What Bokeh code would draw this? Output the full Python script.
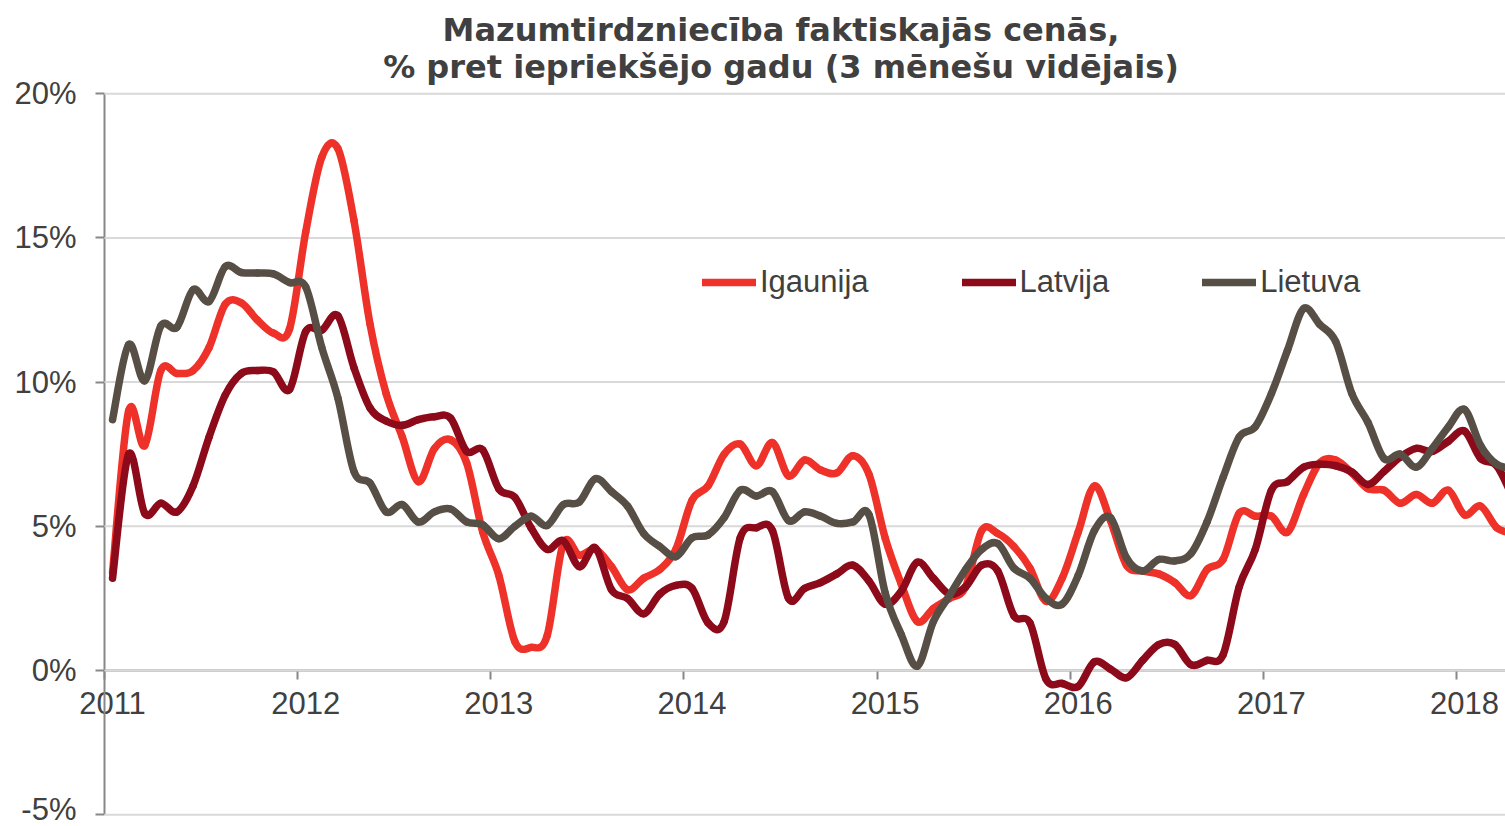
import numpy as np
from bokeh.plotting import figure
from bokeh.models import (FixedTicker, LinearAxis, PrintfTickFormatter, Label,
                          Legend, LegendItem, Range1d, ColumnDataSource)
from bokeh.embed import file_html
from bokeh.resources import INLINE

# ---------------- data (monthly, Jan 2011 .. Apr 2018, % y/y, 3m avg) ----------------
years = ["2011", "2012", "2013", "2014", "2015", "2016", "2017", "2018"]

igaunija = [3.4, 9.0, 7.8, 10.4, 10.3, 10.4, 11.2, 12.7, 12.75, 12.15, 11.7, 11.85,
            15.2, 17.8, 18.1, 15.6, 12.0, 9.6, 8.1, 6.55, 7.7, 8.0, 7.2, 4.8,
            3.3, 1.0, 0.8, 1.2, 4.4, 4.0, 4.2, 3.6, 2.8, 3.2, 3.5, 4.2,
            5.9, 6.4, 7.5, 7.85, 7.1, 7.9, 6.75, 7.3, 6.95, 6.85, 7.45, 6.8,
            4.6, 3.0, 1.7, 2.15, 2.5, 2.9, 4.85, 4.75, 4.3, 3.55, 2.4, 3.2,
            4.8, 6.4, 5.2, 3.65, 3.45, 3.35, 3.05, 2.6, 3.5, 3.85, 5.45, 5.35,
            5.35, 4.8, 6.1, 7.2, 7.3, 6.85, 6.3, 6.25, 5.8, 6.1, 5.8, 6.25,
            5.4, 5.7, 4.95, 4.75]

latvija = [3.2, 7.5, 5.45, 5.8, 5.5, 6.4, 8.1, 9.55, 10.3, 10.4, 10.35, 9.75,
           11.75, 11.8, 12.3, 10.5, 9.1, 8.65, 8.5, 8.7, 8.8, 8.75, 7.6, 7.65,
           6.3, 6.0, 4.95, 4.2, 4.5, 3.6, 4.25, 2.8, 2.5, 1.97, 2.65, 2.95,
           2.85, 1.65, 1.7, 4.6, 4.95, 4.85, 2.5, 2.85, 3.05, 3.35, 3.65, 3.1,
           2.3, 2.75, 3.75, 3.2, 2.65, 2.9, 3.65, 3.45, 1.9, 1.65, -0.3, -0.45,
           -0.55, 0.3, 0.05, -0.25, 0.35, 0.9, 0.9, 0.2, 0.35, 0.55, 2.9, 4.2,
           6.25, 6.55, 7.05, 7.15, 7.1, 6.88, 6.45, 6.9, 7.4, 7.7, 7.6, 7.95,
           8.3, 7.35, 7.1, 6.0]

lietuva = [8.7, 11.3, 10.05, 11.95, 11.9, 13.2, 12.8, 14.0, 13.8, 13.78, 13.75, 13.45,
           13.3, 11.2, 9.45, 6.9, 6.5, 5.5, 5.75, 5.15, 5.5, 5.6, 5.15, 5.05,
           4.57, 5.0, 5.35, 5.03, 5.75, 5.84, 6.65, 6.2, 5.7, 4.75, 4.3, 3.95,
           4.6, 4.7, 5.3, 6.25, 6.05, 6.2, 5.2, 5.5, 5.35, 5.1, 5.15, 5.4,
           2.7, 1.25, 0.15, 1.7, 2.6, 3.5, 4.2, 4.4, 3.55, 3.2, 2.5, 2.3,
           3.3, 4.85, 5.3, 3.9, 3.45, 3.85, 3.8, 4.05, 5.15, 6.7, 8.1, 8.45,
           9.6, 11.1, 12.55, 12.0, 11.4, 9.6, 8.6, 7.35, 7.5, 7.05, 7.7, 8.45,
           9.05, 7.8, 7.15, 7.0]

series_names = ["Igaunija", "Latvija", "Lietuva"]
series_values = [igaunija, latvija, lietuva]
series_colors = ["#EE3129", "#8C0A1A", "#574F45"]

y_ticks = [-5, 0, 5, 10, 15, 20]
title_lines = ["Mazumtirdzniecība faktiskajās cenās,",
               "% pret iepriekšējo gadu (3 mēnešu vidējais)"]

# ---------------- layout / styling ----------------
W, H = 1505, 826
TXT = "#404040"
AXC = "#888888"
GRC = "#D9D9D9"
FONT = "Liberation Sans"

PX_MONTH = 16.095          # pixels per month
PX_PCT = 28.84             # pixels per percentage point
AX_X, AX_Y = 104, 670      # canvas position of (month 0, 0 %)

x_start = -AX_X / PX_MONTH
x_end = (W - AX_X) / PX_MONTH
y_start = (AX_Y - H) / PX_PCT
y_end = AX_Y / PX_PCT

p = figure(width=W, height=H, title=None,
           x_range=Range1d(x_start, x_end), y_range=Range1d(y_start, y_end),
           output_backend="svg", toolbar_location=None,
           x_axis_location=None, y_axis_location=None,
           min_border=0, min_border_left=0, min_border_right=0,
           min_border_top=0, min_border_bottom=0)
p.outline_line_color = None
p.background_fill_color = "white"
p.border_fill_color = "white"
p.xgrid.visible = False
p.ygrid.visible = False

# horizontal gridlines (from the y axis to the right edge)
p.segment(x0=[0] * len(y_ticks), x1=[x_end] * len(y_ticks), y0=y_ticks, y1=y_ticks,
          line_color=GRC, line_width=2)

# y axis at month 0
ya = LinearAxis(ticker=FixedTicker(ticks=y_ticks), fixed_location=0,
                bounds=(y_ticks[0], y_ticks[-1]),
                formatter=PrintfTickFormatter(format="%d%%"),
                axis_line_color=AXC, axis_line_width=2,
                major_tick_line_color=AXC, major_tick_line_width=2,
                major_tick_out=9, major_tick_in=0,
                minor_tick_out=0, minor_tick_in=0,
                major_label_standoff=19,
                major_label_text_font=FONT,
                major_label_text_font_size="31px",
                major_label_text_color=TXT)
ya.level = "underlay"
p.add_layout(ya, "left")

# x axis: tick marks at year boundaries, at 0 %
year_bounds = [12 * k for k in range(len(years))]
xt = LinearAxis(ticker=FixedTicker(ticks=year_bounds), fixed_location=0,
                bounds=(0, x_end),
                major_label_overrides={t: "" for t in year_bounds},
                axis_line_color=AXC, axis_line_width=2,
                major_tick_line_color=AXC, major_tick_line_width=2,
                major_tick_out=9, major_tick_in=0,
                minor_tick_out=0, minor_tick_in=0)
xt.level = "underlay"
p.add_layout(xt, "below")

# x axis labels centred on January of each year
year_mid = [12 * k + 0.5 for k in range(len(years))]
xl = LinearAxis(ticker=FixedTicker(ticks=year_mid), fixed_location=0,
                major_label_overrides={t: y for t, y in zip(year_mid, years)},
                axis_line_color=None, major_tick_line_color=None,
                major_tick_out=0, major_tick_in=0,
                minor_tick_out=0, minor_tick_in=0,
                major_label_standoff=21,
                major_label_text_font=FONT,
                major_label_text_font_size="31px",
                major_label_text_color=TXT)
xl.level = "underlay"
p.add_layout(xl, "below")

# smoothed lines (Catmull-Rom segments through the monthly points)
def smooth_source(xs, ys):
    n = len(xs)
    d = dict(x0=[], y0=[], x1=[], y1=[], cx0=[], cy0=[], cx1=[], cy1=[])
    for k in range(n - 1):
        a, b, c, e = max(k - 1, 0), k, k + 1, min(k + 2, n - 1)
        d["x0"].append(xs[b]); d["y0"].append(ys[b])
        d["x1"].append(xs[c]); d["y1"].append(ys[c])
        d["cx0"].append(xs[b] + (xs[c] - xs[a]) / 6.0)
        d["cy0"].append(ys[b] + (ys[c] - ys[a]) / 6.0)
        d["cx1"].append(xs[c] - (xs[e] - xs[b]) / 6.0)
        d["cy1"].append(ys[c] - (ys[e] - ys[b]) / 6.0)
    return ColumnDataSource(d)

items = []
for name, vals, col in zip(series_names, series_values, series_colors):
    xs = list(np.arange(len(vals)) + 0.5)
    src = smooth_source(xs, vals)
    r = p.bezier(x0="x0", y0="y0", x1="x1", y1="y1", cx0="cx0", cy0="cy0",
                 cx1="cx1", cy1="cy1", source=src, line_color=col,
                 line_width=7.5, line_cap="round")
    items.append(LegendItem(label=name, renderers=[r]))

legend = Legend(items=items, location=(702, 526), orientation="horizontal",
                glyph_width=54, glyph_height=30, label_height=30,
                label_standoff=4, spacing=93, padding=0, margin=0,
                border_line_alpha=0, background_fill_alpha=0,
                label_text_font=FONT, label_text_font_size="31px",
                label_text_color=TXT)
p.add_layout(legend)

# two-line title (screen units: from the left / bottom of the canvas)
for txt, base in zip(title_lines, [796.5, 759.5]):
    p.add_layout(Label(x=780.5, y=base, x_units="screen", y_units="screen",
                       text=txt, text_align="center", text_baseline="alphabetic",
                       text_font="DejaVu Sans", text_font_style="bold",
                       text_font_size="32px", text_color=TXT))

open("out.html", "w").write(file_html(p, INLINE))
